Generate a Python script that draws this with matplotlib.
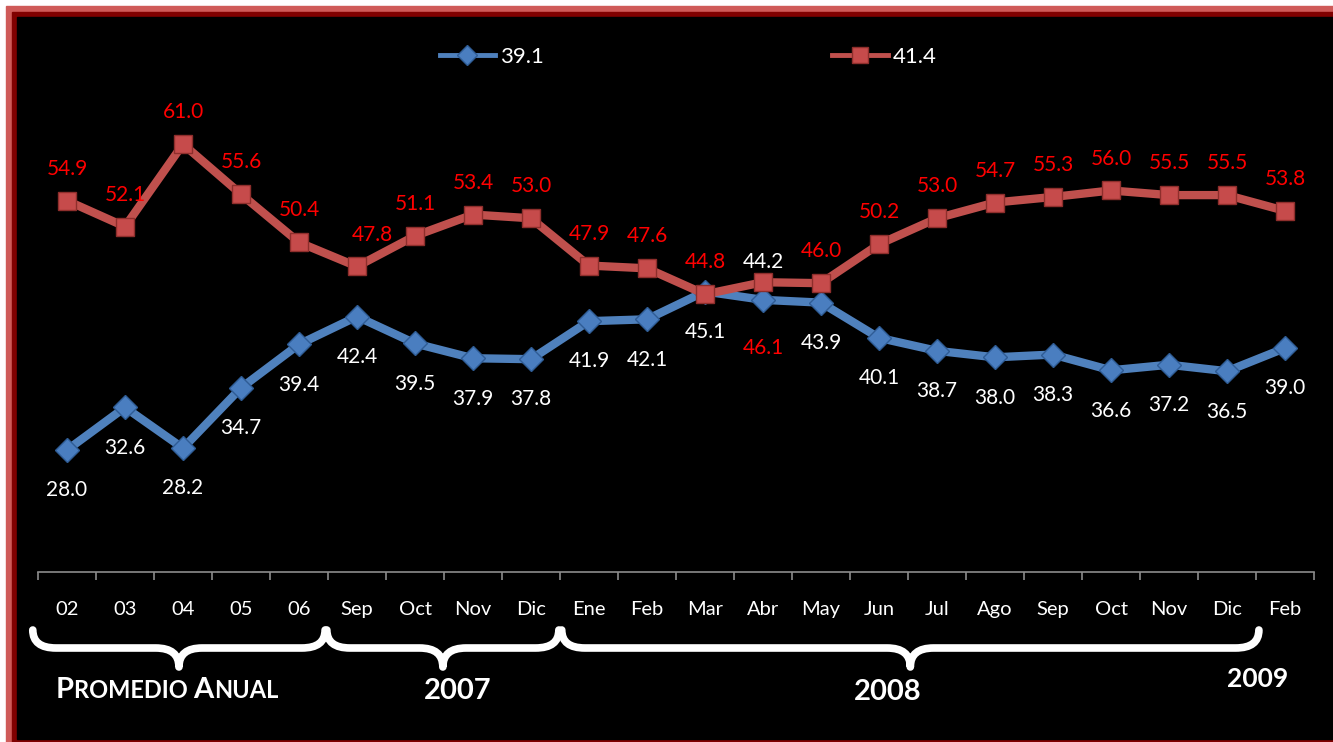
import numpy as np
import matplotlib
matplotlib.use("Agg")
import matplotlib.pyplot as plt
from matplotlib.path import Path
from matplotlib.patches import PathPatch, Rectangle
from matplotlib.lines import Line2D
from matplotlib import transforms
from matplotlib.offsetbox import TextArea, HPacker, AnnotationBbox

plt.rcParams['font.family'] = ['Lato', 'DejaVu Sans']

# data
categories = ['02', '03', '04', '05', '06', 'Sep', 'Oct', 'Nov', 'Dic',
              'Ene', 'Feb', 'Mar', 'Abr', 'May', 'Jun', 'Jul', 'Ago', 'Sep',
              'Oct', 'Nov', 'Dic', 'Feb']
blue_vals = [28.0, 32.6, 28.2, 34.7, 39.4, 42.4, 39.5, 37.9, 37.8, 41.9, 42.1,
             45.1, 44.2, 43.9, 40.1, 38.7, 38.0, 38.3, 36.6, 37.2, 36.5, 39.0]
red_vals = [54.9, 52.1, 61.0, 55.6, 50.4, 47.8, 51.1, 53.4, 53.0, 47.9, 47.6,
            44.8, 46.1, 46.0, 50.2, 53.0, 54.7, 55.3, 56.0, 55.5, 55.5, 53.8]
series_names = ['39.1', '41.4']

W, H = 1333, 742
BLUE = '#4F81BD'
RED = '#C0504D'


def fx(px):
    return px / W


def fy(py):
    return 1 - py / H


def brace(fig, ax, x0, x1, y_end, y_h, y_tip, r=0.4):
    xm = (x0 + x1) / 2
    trans = transforms.blended_transform_factory(ax.transData, fig.transFigure)
    verts = [(x0, y_end), (x0, y_h), (x0 + r, y_h),
             (xm - r, y_h), (xm, y_h), (xm, y_tip),
             (xm, y_h), (xm + r, y_h),
             (x1 - r, y_h), (x1, y_h), (x1, y_end)]
    codes = [Path.MOVETO, Path.CURVE3, Path.CURVE3,
             Path.LINETO, Path.CURVE3, Path.CURVE3,
             Path.CURVE3, Path.CURVE3,
             Path.LINETO, Path.CURVE3, Path.CURVE3]
    p = PathPatch(Path(verts, codes), transform=trans, facecolor='none',
                  edgecolor='white', lw=5.5, capstyle='round',
                  joinstyle='round', clip_on=False, zorder=5)
    fig.add_artist(p)


fig = plt.figure(figsize=(W / 100, H / 100), dpi=100)
fig.patch.set_facecolor('white')

# frame: light red, dark red, black
fig.add_artist(Rectangle((fx(6), fy(800)), fx(1400) - fx(6), fy(6) - fy(800),
                         transform=fig.transFigure, color='#CF5A58', zorder=-12))
fig.add_artist(Rectangle((fx(12), fy(800)), fx(1400) - fx(12), fy(12) - fy(800),
                         transform=fig.transFigure, color='#800000', zorder=-11))
fig.add_artist(Rectangle((fx(17), fy(739)), fx(1400) - fx(17), fy(17) - fy(739),
                         transform=fig.transFigure, color='black', zorder=-10))

ax = fig.add_axes([fx(38), fy(572), fx(1314) - fx(38), fy(100) - fy(572)])
ax.set_facecolor('none')
x = np.arange(len(categories))
ax.set_xlim(-0.5, len(categories) - 0.5)
ax.set_ylim(14.84, 65.76)

ax.plot(x, blue_vals, color=BLUE, lw=6, marker='D', ms=12,
        mfc='#4A7EC0', mec='#2F5C95', mew=1, solid_joinstyle='round', zorder=3)
ax.plot(x, red_vals, color=RED, lw=6, marker='s', ms=13,
        mfc='#C64B4B', mec='#8E2E2C', mew=1, solid_joinstyle='round', zorder=4)

# value labels: blue below, red above (with the two swapped at Abr)
for i in range(len(categories)):
    dy_b = -29
    dy_r = 23
    dx_r = 0
    if i == 12:
        dy_b = 27
        dy_r = -47
    if i == 5:
        dx_r = 11
    ax.annotate(f'{blue_vals[i]:.1f}', (x[i], blue_vals[i]), xytext=(0, dy_b),
                textcoords='offset points', ha='center', va='center',
                color='white', fontsize=15, zorder=6)
    ax.annotate(f'{red_vals[i]:.1f}', (x[i], red_vals[i]), xytext=(dx_r, dy_r),
                textcoords='offset points', ha='center', va='center',
                color='red', fontsize=15, zorder=6)

# axis
for s in ['left', 'right', 'top']:
    ax.spines[s].set_visible(False)
ax.spines['bottom'].set_color('#8c8c8c')
ax.spines['bottom'].set_linewidth(1.2)
ax.set_yticks([])
ax.set_xticks(x)
ax.set_xticklabels(categories, color='white', fontsize=14.5)
ax.set_xticks(np.arange(-0.5, len(categories), 1), minor=True)
ax.tick_params(axis='x', which='major', length=0, pad=21)
ax.tick_params(axis='x', which='minor', length=6, width=1.2, color='#8c8c8c')

# braces under the labels
brace_x = [(-0.59, 4.45), (4.48, 8.48), (8.53, 20.55)]
for (a, b) in brace_x:
    brace(fig, ax, a, b, fy(630), fy(648), fy(667))

# captions
parts = [('P', 21), ('ROMEDIO ', 17), ('A', 21), ('NUAL', 17)]
areas = [TextArea(t, textprops=dict(size=s, weight='bold', color='white'))
         for t, s in parts]
box = HPacker(children=areas, align='baseline', pad=0, sep=0)
fig.add_artist(AnnotationBbox(box, (fx(56), fy(690)), xycoords='figure fraction',
                              box_alignment=(0, 0.5), frameon=False, pad=0))
fig.text(fx(458), fy(691), '2007', ha='center', va='center', fontsize=21,
         fontweight='bold', color='white')
fig.text(fx(888), fy(692), '2008', ha='center', va='center', fontsize=21,
         fontweight='bold', color='white')
fig.text(fx(1258), fy(679), '2009', ha='center', va='center', fontsize=19,
         fontweight='bold', color='white')

# legend
handles = [Line2D([], [], color=BLUE, lw=3.5, marker='D', ms=10,
                  mfc='#4A7EC0', mec='#2F5C95'),
           Line2D([], [], color=RED, lw=3.5, marker='s', ms=11,
                  mfc='#C64B4B', mec='#8E2E2C')]
fig.legend(handles, series_names, loc='center', bbox_to_anchor=(fx(688), fy(57)),
           ncol=2, frameon=False, fontsize=16, labelcolor='white',
           handlelength=2.5, handletextpad=0.2, columnspacing=13)

fig.savefig('out.png', dpi=100, facecolor='white')
